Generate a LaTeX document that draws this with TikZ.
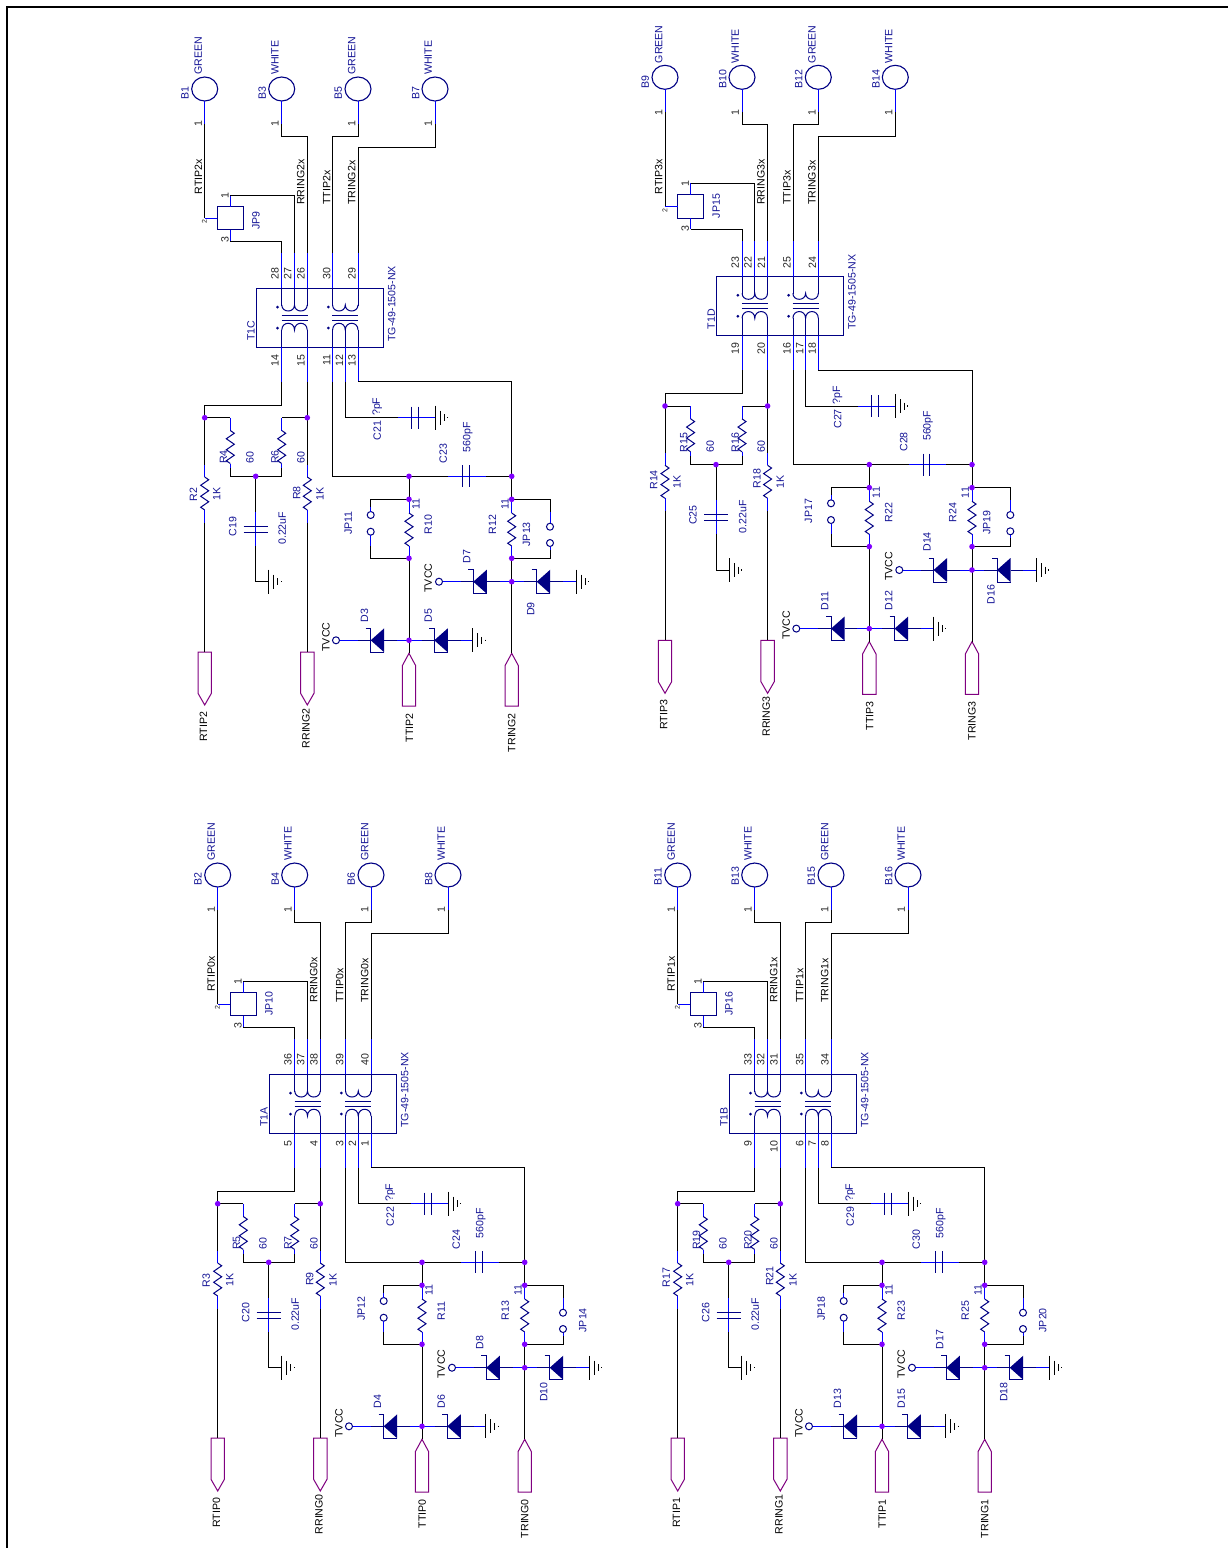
\documentclass[tikz,border=0pt]{standalone}
\usepackage{fontspec}
\setmainfont{Liberation Sans}
\usetikzlibrary{shapes.geometric}
\definecolor{partc}{RGB}{0,0,132}
\definecolor{textc}{RGB}{20,20,150}
\definecolor{leadc}{RGB}{0,0,255}
\definecolor{juncc}{RGB}{128,0,255}
\definecolor{portc}{RGB}{128,0,128}
\tikzset{
  resis/.pic={\draw[part] (0,0) -- (4,2.75) -- (-4,8.25) -- (4,13.75) -- (-4,19.25) -- (4,24.75) -- (-4,30.25) -- (0,33);},
  earth/.pic={
    \draw[wire] (0,-12) -- (0,12);
    \draw[wire] (5,-7) -- (5,7);
    \draw[wire] (9,-3.5) -- (9,3.5);
    \draw[wire] (12.5,-.7) -- (12.5,.7);
  },
  zener/.pic={
    \fill[partc] (0,0) -- (13.5,-12) -- (13.5,12) -- cycle;
    \draw[part] (-5,-12) -- (0,-12) -- (0,12) -- (13.5,12);
    \draw[part] (-12.7,0) -- (0,0);
    \draw[part] (13.5,0) -- (26.2,0);
  },
  vplates/.pic={
    \draw[part] (-3.3,-11) -- (-3.3,11);
    \draw[part] (3.3,-11) -- (3.3,11);
  },
  hplates/.pic={
    \draw[part] (-12,-3.2) -- (12,-3.2);
    \draw[part] (-12,3.2) -- (12,3.2);
  },
  coilpair/.pic={
    \draw[part] (-12.7,-1) .. controls (-12.7,7) and (0,7) .. (0,-1) .. controls (0,7) and (12.7,7) .. (12.7,-1);
    \draw[part] (-13,9) -- (13,9);
    \draw[part] (-13,14) -- (13,14);
    \draw[part] (-12.7,24) .. controls (-12.7,15) and (0,15) .. (0,24) .. controls (0,15) and (12.7,15) .. (12.7,24);
    \fill[partc] (-17,1) circle(1.5);
    \fill[partc] (-17,22) circle(1.5);
  }
}
\newcounter{lb}
\newcommand\lab[4]{\stepcounter{lb}\node[#1] (lb\thelb) at (#2,#3) {#4};}
\newcommand\chan{%
  \begin{scope}[shift={(\dx,\dy)},name prefix=\tn-]
    \node[conn] (b1) at (204.7,89) {};
    \node[conn] (b3) at (281.7,89) {};
    \node[conn] (b5) at (358,89) {};
    \node[conn] (b7) at (435,89) {};
    \node[partbox,minimum width=26pt,minimum height=23.3pt] (jp) at (230.3,218.3) {};
    \node[partbox,minimum width=127.3pt,minimum height=59pt] (tb) at (319.65,317.8) {};
    \node[hole] (tva) at (336,640.3) {};
    \node[hole] (tvb) at (439,581.7) {};
    \node[hole] (ja) at (370.7,515) {};
    \node[hole] (jb) at (370.7,531.7) {};
    \node[hole] (jc) at (550,526.7) {};
    \node[hole] (jd) at (550,543) {};
    % pins of the cable side
    \coordinate (p1) at (204.7,124);
    \coordinate (p3) at (281.7,124);
    \coordinate (p5) at (358,124);
    \coordinate (p7) at (435,124);
    \coordinate (m1) at (204.7,218.3);
    \coordinate (n1) at (230.3,195);
    \coordinate (n3) at (230.3,241);
    \coordinate (t28) at (281.7,253);
    \coordinate (t27) at (294.3,253);
    \coordinate (t26) at (307.3,253);
    \coordinate (t30) at (332.7,253);
    \coordinate (t29) at (358,253);
    \coordinate (u14) at (281.7,381.7);
    \coordinate (u15) at (307.3,381.7);
    \coordinate (u11) at (332.7,381.7);
    \coordinate (u12) at (345.3,381.7);
    \coordinate (u13) at (358,381.7);
    % junctions
    \coordinate (jr) at (204.7,417.7);
    \coordinate (js) at (307.3,417.7);
    \coordinate (jm) at (255.7,476.3);
    \coordinate (jt) at (409,476.3);
    \coordinate (ju) at (511.7,476.3);
    \coordinate (jv) at (409,499.3);
    \coordinate (jw) at (511.7,499.3);
    \coordinate (jx) at (409,558.3);
    \coordinate (jy) at (511.7,558.3);
    \coordinate (jz) at (409,640.3);
    \coordinate (jq) at (511.7,581.7);
    % ports
    \coordinate (pra) at (204.7,652);
    \coordinate (prb) at (307.3,652);
    \coordinate (ptc) at (409,653.3);
    \coordinate (ptd) at (511.7,653.3);
    \draw[port] (pra) ++(-6.7,0) -- ++(13.4,0) -- ++(0,41.3) -- ++(-6.7,11.7) -- ++(-6.7,-11.7) -- cycle;
    \draw[port] (prb) ++(-6.7,0) -- ++(13.4,0) -- ++(0,41.3) -- ++(-6.7,11.7) -- ++(-6.7,-11.7) -- cycle;
    \draw[port] (ptc) -- ++(6.7,12.4) -- ++(0,40.3) -- ++(-13.4,0) -- ++(0,-40.3) -- cycle;
    \draw[port] (ptd) -- ++(6.7,12.4) -- ++(0,40.3) -- ++(-13.4,0) -- ++(0,-40.3) -- cycle;
    % cable side wires
    \draw[lead] (b1.south) -- (p1);
    \draw[lead] (b3.south) -- (p3);
    \draw[lead] (b5.south) -- (p5);
    \draw[lead] (b7.south) -- (p7);
    \draw[wire] (p1) -- (m1);
    \draw[lead] (m1) -- (jp.west);
    \draw[lead] (jp.north) -- (n1);
    \draw[lead] (jp.south) -- (n3);
    \draw[wire] (n1) -| (t27);
    \draw[wire] (n3) -| (t28);
    \draw[wire] (p3) -- ++(0,12) -| (t26);
    \draw[wire] (p5) -- ++(0,12) -| (t30);
    \draw[wire] (p7) -- ++(0,23.7) -| (t29);
    \foreach \t in {t28,t27,t26,t30,t29} \draw[lead] (\t) -- (\t|-tb.north);
    \foreach \t in {u14,u15,u11,u12,u13} \draw[lead] (\t) -- (\t|-tb.south);
    \draw[part] (281.7,288.3) -- (281.7,306);
    \draw[part] (294.3,288.3) -- (294.3,306);
    \draw[part] (307.3,288.3) -- (307.3,306);
    \draw[part] (332.7,288.3) -- (332.7,306);
    \draw[part] (358,288.3) -- (358,306);
    \draw[part] (281.7,330) -- (281.7,347.3);
    \draw[part] (307.3,330) -- (307.3,347.3);
    \draw[part] (332.7,330) -- (332.7,347.3);
    \draw[part] (345.3,330) -- (345.3,347.3);
    \draw[part] (358,330) -- (358,347.3);
    \pic at (294.5,306) {coilpair};
    \pic at (345.3,306) {coilpair};
    % termination side
    \draw[wire] (u14) -- ++(0,23.6) -| (jr);
    \draw[wire] (jr) -- (204.7,465);
    \draw[lead] (204.7,465) -- (204.7,477);
    \pic at (204.7,477) {resis};
    \draw[lead] (204.7,510) -- (204.7,522.7);
    \draw[wire] (204.7,522.7) -- (pra);
    \draw[wire] (u15) -- (js);
    \draw[wire] (js) -- (307.3,465);
    \draw[lead] (307.3,465) -- (307.3,477);
    \pic at (307.3,477) {resis};
    \draw[lead] (307.3,510) -- (307.3,522.7);
    \draw[wire] (307.3,522.7) -- (prb);
    \draw[wire] (jr) -- (230.3,417.7);
    \draw[lead] (230.3,417.7) -- (230.3,430.5);
    \pic at (230.3,430.5) {resis};
    \draw[lead] (230.3,463.5) -- (230.3,468);
    \draw[wire] (jm) -| (230.3,468);
    \draw[wire] (js) -- (281.7,417.7);
    \draw[lead] (281.7,417.7) -- (281.7,430.5);
    \pic at (281.7,430.5) {resis};
    \draw[lead] (281.7,463.5) -- (281.7,468);
    \draw[wire] (jm) -| (281.7,468);
    \draw[wire] (jm) -- (255.7,511.7);
    \draw[lead] (255.7,511.7) -- (255.7,546);
    \pic at (255.7,529.2) {hplates};
    \draw[wire] (255.7,546) |- (268.7,581.7);
    \pic at (268.7,581.7) {earth};
    \draw[wire] (u12) |- (397.7,417.7);
    \draw[lead] (397.7,417.7) -- (435,417.7);
    \pic at (414.7,417.7) {vplates};
    \pic at (435,417.7) {earth};
    \draw[wire] (u11) |- (jt);
    \draw[wire] (jt) -- (448.3,476.3);
    \draw[lead] (448.3,476.3) -- (485.7,476.3);
    \pic at (466,476.3) {vplates};
    \draw[wire] (485.7,476.3) -- (ju);
    \draw[wire] (u13) -| (ju);
    \draw[wire] (ju) -- (jw);
    \draw[wire] (jt) -- (jv);
    \draw[lead] (jv) -- (409,513);
    \pic at (409,513) {resis};
    \draw[lead] (409,546) -- (jx);
    \draw[wire] (jx) -- (ptc);
    \draw[lead] (jw) -- (511.7,513);
    \pic at (511.7,513) {resis};
    \draw[lead] (511.7,546) -- (jy);
    \draw[wire] (jy) -- (ptd);
    % jumpers
    \draw[wire] (jv) -| (370.7,506.7);
    \draw[lead] (370.7,506.7) -- (ja);
    \draw[lead] (jb) -- (370.7,546);
    \draw[wire] (370.7,546) |- (jx);
    \draw[wire] (jw) -| (550,511.7);
    \draw[lead] (550,511.7) -- (jc);
    \draw[lead] (jd) -- (550,550);
    \draw[wire] (550,550) |- (jy);
    % clamps
    \draw[lead] (tva) -- (358,640.3);
    \pic at (370.7,640.3) {zener};
    \draw[lead] (396.9,640.3) -- (421.6,640.3);
    \pic at (434.3,640.3) {zener};
    \draw[lead] (460.5,640.3) -- (472.7,640.3);
    \pic at (472.7,640.3) {earth};
    \draw[lead] (tvb) -- (460.6,581.7);
    \pic at (473.3,581.7) {zener};
    \draw[lead] (499.5,581.7) -- (524,581.7);
    \pic at (536.7,581.7) {zener};
    \draw[lead] (562.9,581.7) -- (576,581.7);
    \pic at (576,581.7) {earth};
    \foreach \j in {jr,js,jm,jt,ju,jv,jw,jx,jy,jz,jq} \node[jn] (\j dot) at (\j) {};
    % texts
    \lab{lbl}{185}{100}{B\ba}
    \lab{lbl}{262.3}{100}{B\bb}
    \lab{lbl}{338.3}{100}{B\bc}
    \lab{lbl}{415.7}{100}{B\bd}
    \lab{lbl}{198.3}{75}{GREEN}
    \lab{lbl}{275}{75}{WHITE}
    \lab{lbl}{351.7}{75}{GREEN}
    \lab{lbl}{428.3}{75}{WHITE}
    \lab{num}{198.3}{127}{1}
    \lab{num}{275}{127}{1}
    \lab{num}{351.7}{127}{1}
    \lab{num}{428.3}{127}{1}
    \lab{net}{198.3}{194.3+\ndy}{RTIP\net x}
    \lab{net}{300.7}{205+\ndy}{RRING\net x}
    \lab{net}{326.7}{205+\ndy}{TTIP\net x}
    \lab{net}{351.7}{205+\ndy}{TRING\net x}
    \lab{num,anchor=center}{225}{195.7}{1}
    \lab{num,anchor=center}{225}{240}{3}
    \lab{num,anchor=center,font=\fontsize{7}{8}\selectfont}{204.5}{222}{2}
    \lab{lbl}{256}{230}{JP\jpa}
    \lab{num}{275}{280}{\qa}
    \lab{num}{287.7}{280}{\qb}
    \lab{num}{301}{280}{\qc}
    \lab{num}{326.7}{280}{\qd}
    \lab{num}{352}{280}{\qe}
    \lab{num,anchor=east}{275}{354.5}{\qf}
    \lab{num,anchor=east}{301}{354.5}{\qg}
    \lab{num,anchor=east}{326.7}{354.5}{\qh}
    \lab{num,anchor=east}{339.3}{354.5}{\qi}
    \lab{num,anchor=east}{352}{354.5}{\qj}
    \lab{lbl}{251}{341}{T1\tn}
    \lab{lbl}{391.7}{341.7}{TG-49-1505-NX}
    \lab{lbl}{193.3}{501.5}{R\ra}
    \lab{lbl}{216.7}{500.5}{1K}
    \lab{lbl}{223.5}{464}{R\rb}
    \lab{lbl}{250}{464}{60}
    \lab{lbl}{275}{464}{R\rc}
    \lab{lbl}{301}{464}{60}
    \lab{lbl}{296.7}{500}{R\rd}
    \lab{lbl}{320}{500.5}{1K}
    \lab{lbl}{232.7}{536.7}{C\ca}
    \lab{lbl}{282.3}{545}{0.22uF}
    \lab{lbl}{377.3}{440.5}{C\cb}
    \lab{lbl}{377.3}{416}{?pF}
    \lab{lbl}{443.3}{463.5}{C\cc}
    \lab{lbl}{467.7}{452.7}{560pF}
    \lab{lbl}{348.3}{535}{JP\jpb}
    \lab{lbl}{416}{510}{11}
    \lab{lbl}{428.3}{534.3}{R\re}
    \lab{lbl}{492.3}{534.3}{R\rf}
    \lab{lbl}{505}{510}{11}
    \lab{lbl}{\jpx}{546.5}{JP\jpc}
    \lab{lbl}{364.5}{622.3}{D\da}
    \lab{lbl}{428.3}{622.3}{D\db}
    \lab{lbl}{466.7}{563.5}{D\dc}
    \lab{lbl}{530.7}{616}{D\dd}
    \lab{net}{326}{651.7}{TVCC}
    \lab{net}{428.3}{592.7}{TVCC}
    \lab{net,anchor=east}{203.5}{711.5}{RTIP\net}
    \lab{net,anchor=east}{306}{708}{RRING\net}
    \lab{net,anchor=east}{409.3}{713}{TTIP\net}
    \lab{net,anchor=east}{511.7}{713}{TRING\net}
  \end{scope}%
}

\begin{document}
\begin{tikzpicture}[x=1pt,y=-1pt]
    \tikzstyle{wire}=[black,line width=1pt];
    \tikzstyle{lead}=[leadc,line width=1pt];
    \tikzstyle{part}=[partc,line width=1pt];
    \tikzstyle{port}=[portc,line width=1pt];
    \tikzstyle{partbox}=[draw=partc,line width=1pt,inner sep=0pt,outer sep=0pt];
    \tikzstyle{conn}=[ellipse,draw=partc,line width=1.1pt,minimum width=26pt,minimum height=24pt,inner sep=0pt,outer sep=0pt];
    \tikzstyle{hole}=[circle,draw=partc,line width=1pt,minimum size=7pt,inner sep=0pt,outer sep=0pt];
    \tikzstyle{jn}=[circle,fill=juncc,minimum size=5.6pt,inner sep=0pt];
    \tikzstyle{lbl}=[rotate=90,anchor=west,inner sep=0pt,text=textc,font=\fontsize{10.6}{12}\selectfont];
    \tikzstyle{net}=[lbl,text=black];
    \tikzstyle{num}=[lbl,text=black!85];
    \useasboundingbox (0,0) rectangle (1228,1548);
    \fill[white] (0,0) rectangle (1228,1548);
    \coordinate (frameA) at (7,1548);
    \coordinate (frameB) at (7,7);
    \coordinate (frameC) at (1228,7);
    \draw[black,line width=2.2pt] (frameA) -- (frameB) -- (frameC);
    \foreach \dx/\dy/\net/\tn/\ndy/\jpx/\qa/\qb/\qc/\qd/\qe/\qf/\qg/\qh/\qi/\qj/\ba/\bb/\bc/\bd/\jpa/\jpb/\jpc/\ra/\rb/\rc/\rd/\re/\rf/\ca/\cb/\cc/\da/\db/\dc/\dd in {
      0/0/2/C/0/526.5/28/27/26/30/29/14/15/11/12/13/1/3/5/7/9/11/13/2/4/6/8/10/12/19/21/23/3/5/7/9,
      460.3/-11.7/3/D/11.7/526.5/23/22/21/25/24/19/20/16/17/18/9/10/12/14/15/17/19/14/15/16/18/22/24/25/27/28/11/12/14/16,
      13/786/0/A/11.7/569.7/36/37/38/39/40/5/4/3/2/1/2/4/6/8/10/12/14/3/5/7/9/11/13/20/22/24/4/6/8/10,
      473/786/1/B/11.7/569.7/33/32/31/35/34/9/10/6/7/8/11/13/15/16/16/18/20/17/19/20/21/23/25/26/29/30/13/15/17/18
    } {\chan}
\end{tikzpicture}
\end{document}
